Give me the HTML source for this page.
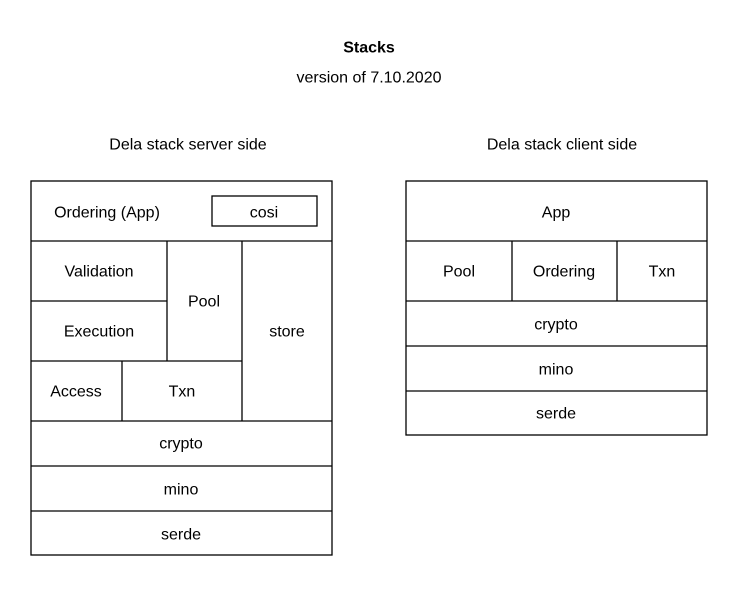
<!DOCTYPE html>
<html><head><meta charset="utf-8"><style>html,body{margin:0;padding:0;background:#fff}</style></head>
<body>
<svg width="738" height="587" xmlns="http://www.w3.org/2000/svg" font-family="Liberation Sans, Arial, sans-serif" font-size="16" fill="none" stroke="#000" stroke-width="1.3">
<g fill="#000" stroke="none" text-anchor="middle" dominant-baseline="central" transform="translate(0,1)">
<text x="369" y="47" font-weight="bold">Stacks</text>
<text x="369" y="77">version of 7.10.2020</text>
<text x="188" y="144">Dela stack server side</text>
<text x="562" y="144">Dela stack client side</text>
</g>
<!-- left -->
<rect x="31" y="181" width="301" height="374"/>
<line x1="31" y1="241" x2="332" y2="241"/>
<line x1="31" y1="301" x2="167" y2="301"/>
<line x1="31" y1="361" x2="242" y2="361"/>
<line x1="31" y1="421" x2="332" y2="421"/>
<line x1="31" y1="466" x2="332" y2="466"/>
<line x1="31" y1="511" x2="332" y2="511"/>
<line x1="167" y1="241" x2="167" y2="361"/>
<line x1="242" y1="241" x2="242" y2="421"/>
<line x1="122" y1="361" x2="122" y2="421"/>
<rect x="212" y="196" width="105" height="30"/>
<g fill="#000" stroke="none" text-anchor="middle" dominant-baseline="central" transform="translate(0,1)">
<text x="107" y="212">Ordering (App)</text>
<text x="264" y="212">cosi</text>
<text x="99" y="271">Validation</text>
<text x="99" y="331">Execution</text>
<text x="204" y="301">Pool</text>
<text x="287" y="331">store</text>
<text x="76" y="391">Access</text>
<text x="182" y="391">Txn</text>
<text x="181" y="443">crypto</text>
<text x="181" y="489">mino</text>
<text x="181" y="534">serde</text>
</g>
<!-- right -->
<rect x="406" y="181" width="301" height="254"/>
<line x1="406" y1="241" x2="707" y2="241"/>
<line x1="406" y1="301" x2="707" y2="301"/>
<line x1="406" y1="346" x2="707" y2="346"/>
<line x1="406" y1="391" x2="707" y2="391"/>
<line x1="512" y1="241" x2="512" y2="301"/>
<line x1="617" y1="241" x2="617" y2="301"/>
<g fill="#000" stroke="none" text-anchor="middle" dominant-baseline="central" transform="translate(0,1)">
<text x="556" y="212">App</text>
<text x="459" y="271">Pool</text>
<text x="564" y="271">Ordering</text>
<text x="662" y="271">Txn</text>
<text x="556" y="324">crypto</text>
<text x="556" y="369">mino</text>
<text x="556" y="413">serde</text>
</g>
</svg>
</body></html>
